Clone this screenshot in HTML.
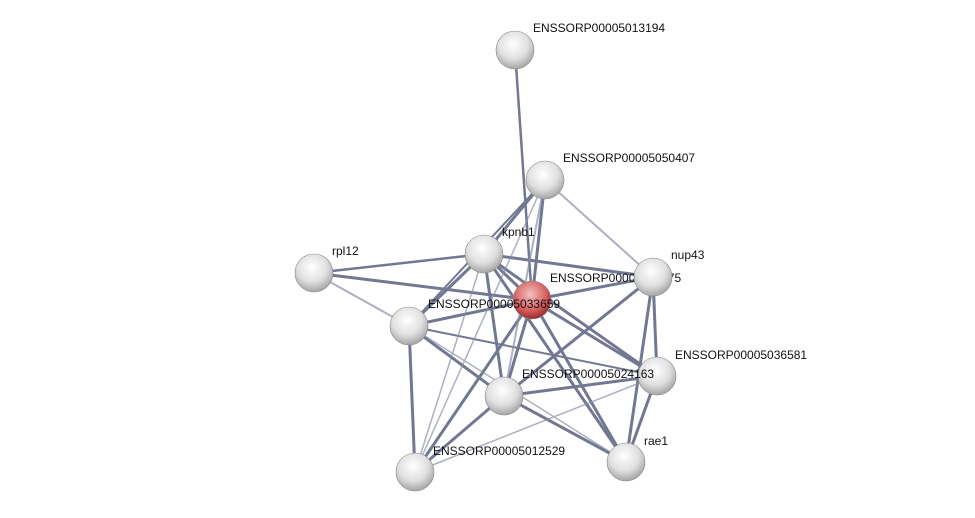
<!DOCTYPE html>
<html><head><style>body{margin:0;background:#fff}svg{display:block}text{font-family:"Liberation Sans",sans-serif;font-size:12px;fill:#111}</style></head><body>
<svg width="975" height="518" viewBox="0 0 975 518">
<defs>
<radialGradient id="g" cx="0.45" cy="0.35" r="0.7"><stop offset="0" stop-color="#ffffff"/><stop offset="0.55" stop-color="#e0e0e0"/><stop offset="1" stop-color="#9a9a9a"/></radialGradient>
<radialGradient id="r" cx="0.45" cy="0.35" r="0.7"><stop offset="0" stop-color="#f4c0c0"/><stop offset="0.6" stop-color="#d86060"/><stop offset="1" stop-color="#8a2020"/></radialGradient>
</defs>
<g stroke-linecap="round">
<g stroke="#5a6080" stroke-width="3" opacity="0.85">
<line x1="515" y1="50" x2="532" y2="300" stroke-width="2.5"/>
<line x1="545" y1="180" x2="484" y2="254"/>
<line x1="545" y1="180" x2="532" y2="300"/>
<line x1="545" y1="180" x2="409" y2="326" stroke-width="2"/>
<line x1="484" y1="254" x2="532" y2="300"/>
<line x1="484" y1="254" x2="653" y2="277"/>
<line x1="484" y1="254" x2="409" y2="326"/>
<line x1="484" y1="254" x2="504" y2="396"/>
<line x1="484" y1="254" x2="657" y2="376"/>
<line x1="484" y1="254" x2="626" y2="462"/>
<line x1="314" y1="273" x2="484" y2="254" stroke-width="2.5"/>
<line x1="314" y1="273" x2="532" y2="300"/>
<line x1="532" y1="300" x2="653" y2="277"/>
<line x1="532" y1="300" x2="409" y2="326"/>
<line x1="532" y1="300" x2="504" y2="396"/>
<line x1="532" y1="300" x2="657" y2="376"/>
<line x1="532" y1="300" x2="626" y2="462"/>
<line x1="532" y1="300" x2="415" y2="472"/>
<line x1="409" y1="326" x2="504" y2="396"/>
<line x1="409" y1="326" x2="415" y2="472"/>
<line x1="409" y1="326" x2="657" y2="376" stroke-width="2"/>
<line x1="504" y1="396" x2="657" y2="376"/>
<line x1="504" y1="396" x2="626" y2="462"/>
<line x1="504" y1="396" x2="415" y2="472"/>
<line x1="504" y1="396" x2="653" y2="277"/>
<line x1="653" y1="277" x2="657" y2="376"/>
<line x1="653" y1="277" x2="626" y2="462"/>
<line x1="657" y1="376" x2="626" y2="462"/>
</g>
<g stroke="#8a8fa8" stroke-width="2" opacity="0.7">
<line x1="545" y1="180" x2="653" y2="277"/>
<line x1="545" y1="180" x2="504" y2="396"/>
<line x1="545" y1="180" x2="415" y2="472" stroke-width="1.5"/>
<line x1="314" y1="273" x2="409" y2="326"/>
<line x1="484" y1="254" x2="415" y2="472" stroke-width="1.5"/>
<line x1="415" y1="472" x2="657" y2="376" stroke-width="1.5"/>
<line x1="409" y1="326" x2="626" y2="462" stroke-width="1.5"/>
</g>
</g>
<text x="550" y="282">ENSSORP00005011575</text>
<g stroke="#888" stroke-width="0.6">
<circle cx="515" cy="50" r="19" fill="url(#g)"/>
<circle cx="545" cy="180" r="19" fill="url(#g)"/>
<circle cx="484" cy="254" r="19" fill="url(#g)"/>
<circle cx="314" cy="273" r="19" fill="url(#g)"/>
<circle cx="653" cy="277" r="19" fill="url(#g)"/>
<circle cx="532" cy="300" r="19" fill="url(#r)"/>
<circle cx="409" cy="326" r="19" fill="url(#g)"/>
<circle cx="657" cy="376" r="19" fill="url(#g)"/>
<circle cx="504" cy="396" r="19" fill="url(#g)"/>
<circle cx="415" cy="472" r="19" fill="url(#g)"/>
<circle cx="626" cy="462" r="19" fill="url(#g)"/>
</g>
<text x="533" y="32">ENSSORP00005013194</text>
<text x="563" y="162">ENSSORP00005050407</text>
<text x="502" y="236">kpnb1</text>
<text x="332" y="255">rpl12</text>
<text x="671" y="259">nup43</text>
<text x="428" y="308">ENSSORP00005033659</text>
<text x="675" y="359">ENSSORP00005036581</text>
<text x="522" y="378">ENSSORP00005024163</text>
<text x="433" y="455">ENSSORP00005012529</text>
<text x="644" y="445">rae1</text>
</svg>
</body></html>
